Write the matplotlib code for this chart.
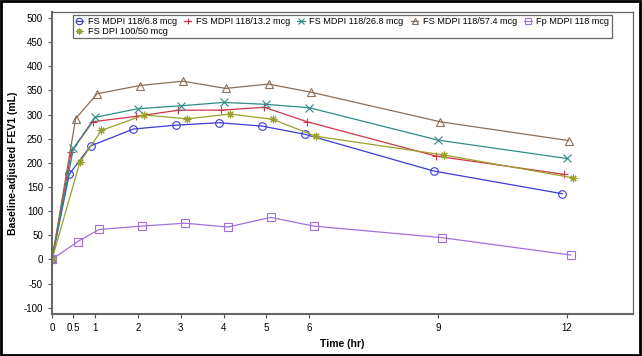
import numpy as np
import matplotlib
matplotlib.use('Agg')
import matplotlib.pyplot as plt
from matplotlib.patches import Rectangle

plt.rcParams['font.family'] = ['Liberation Sans', 'DejaVu Sans']
plt.rcParams['axes.unicode_minus'] = False

times = [0, 0.5, 1, 2, 3, 4, 5, 6, 9, 12]
labels = ['FS MDPI 118/6.8 mcg', 'FS MDPI 118/13.2 mcg', 'FS MDPI 118/26.8 mcg',
          'FS MDPI 118/57.4 mcg', 'Fp MDPI 118 mcg', 'FS DPI 100/50 mcg']
fs68 = [0, 176, 235, 270, 278, 283, 276, 259, 183, 136]
fs132 = [0, 223, 285, 296, 309, 309, 315, 285, 214, 176]
fs268 = [0, 230, 294, 312, 318, 325, 321, 314, 247, 209]
fs574 = [0, 291, 343, 360, 369, 354, 363, 346, 285, 246]
fp118 = [0, 37, 62, 69, 75, 67, 87, 69, 45, 9]
fsdpi = [0, 201, 267, 299, 291, 301, 290, 255, 216, 169]
series = [fs68, fs132, fs268, fs574, fp118, fsdpi]

colors = ['#3b3bd6', '#d0344a', '#2f8c88', '#8a6e58', '#a46fd8', '#9aa02c']
markers = ['o', '+', 'x', '^', 's', (8, 2, 0)]
shift = [-0.1, -0.05, 0.0, 0.05, 0.1, 0.15]

fig = plt.figure(figsize=(6.42, 3.56), dpi=100)
ax = fig.add_axes([0.081, 0.118, 0.905, 0.848])

handles = []
for vals, lab, c, m, s in zip(series, labels, colors, markers, shift):
    x = np.array(times, dtype=float)
    x[1:] += s
    hollow = m in ('o', '^', 's')
    h, = ax.plot(x, vals, color=c, lw=0.9, marker=m, ms=5.5,
                 mfc='none' if hollow else c, mec=c, mew=0.8, label=lab)
    handles.append(h)

ax.set_xlim(0, 13.55)
ax.set_ylim(-113, 512)
ax.set_xticks(times)
ax.set_xticklabels(['0', '0.5', '1', '2', '3', '4', '5', '6', '9', '12'])
ax.set_yticks(np.arange(-100, 501, 50))
ax.tick_params(labelsize=7, length=3, color='#555555')
for sp in ax.spines.values():
    sp.set_color('#666666')
    sp.set_linewidth(0.9)
ax.spines['left'].set_linewidth(1.5)
ax.spines['bottom'].set_linewidth(1.5)

ax.set_xlabel('Time (hr)', fontsize=7.5, fontweight='bold')
ax.set_ylabel('Baseline-adjusted FEV1 (mL)', fontsize=7.5, fontweight='bold')

# legend filled column-wise, so reorder to get row order like the original
order = [0, 5, 1, 2, 3, 4]
leg = ax.legend([handles[i] for i in order], [labels[i] for i in order],
                loc='upper center', ncol=5, fontsize=6.6, frameon=True,
                fancybox=False, edgecolor='#444444', borderpad=0.25,
                labelspacing=0.1, handlelength=0.8, handletextpad=0.5,
                columnspacing=0.8, markerscale=0.85,
                bbox_to_anchor=(0.5, 0.995), borderaxespad=0.1)
leg.get_frame().set_linewidth(0.9)

fig.patches.append(Rectangle((0.002, 0.004), 0.995, 0.992, transform=fig.transFigure,
                             fill=False, edgecolor='black', lw=2))

fig.savefig('out.png', dpi=100)
